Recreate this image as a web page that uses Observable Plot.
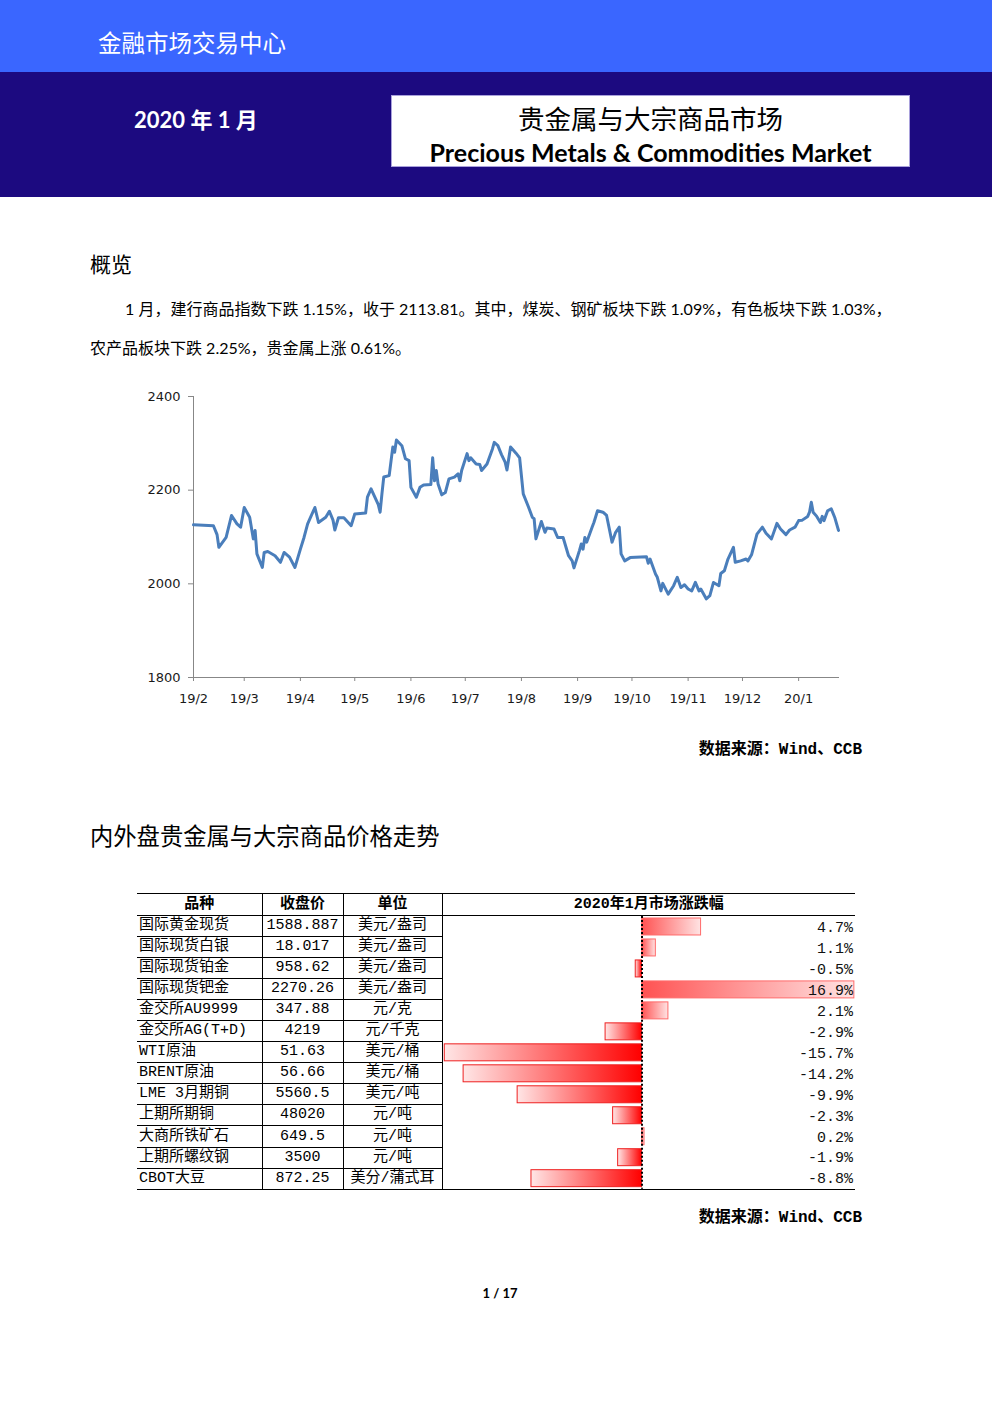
<!DOCTYPE html>
<html><head><meta charset="utf-8">
<script src="https://cdn.jsdelivr.net/npm/d3@7"></script>
<script src="https://cdn.jsdelivr.net/npm/@observablehq/plot@0.6"></script>
<style>
html,body{margin:0;padding:0;background:#fff;}
#page{position:relative;width:992px;height:1403px;overflow:hidden;font-family:"Noto Sans CJK SC",sans-serif;color:#000;}
.abs{position:absolute;white-space:nowrap;}
#chart1 text{fill:#1a1a1a;}
#tbl{position:absolute;left:137px;top:893px;border-collapse:collapse;table-layout:fixed;font-family:"Liberation Mono","Noto Sans CJK SC",monospace;font-size:15px;}
#tbl td,#tbl th{padding:0;height:20px;line-height:20px;border-bottom:1px solid #000;border-right:1px solid #000;vertical-align:bottom;overflow:hidden;white-space:nowrap;}
#tbl th{border-top:1px solid #000;font-weight:bold;text-align:center;line-height:21px;height:20px;}
#tbl td.c0{text-align:left;padding-left:2px;}
#tbl td.c1,#tbl td.c2{text-align:center;}
#tbl .last{border-right:none;}
#tbl td.barcell{vertical-align:top;}
.src{font-family:"Liberation Mono","Noto Sans CJK SC",monospace;font-weight:bold;font-size:16px;}
</style></head>
<body><div id="page">
  <div class="abs" style="left:0;top:0;width:992px;height:72px;background:#3A66FF;"></div>
  <div class="abs" style="left:0;top:72px;width:992px;height:125px;background:#1C0A80;"></div>
  <div class="abs" style="left:98px;top:26px;line-height:32px;font-size:23.5px;color:#fff;">金融市场交易中心</div>
  <div class="abs" style="left:134px;top:105px;line-height:30px;font-size:22px;color:#fff;font-weight:bold;font-family:Lato,'Noto Sans CJK SC';">2020 年 1 月</div>
  <div class="abs" style="left:391px;top:95px;width:517px;height:70px;background:#fff;border:1px solid #a9a1dc;"></div>
  <div class="abs" style="left:391px;top:101px;width:519px;text-align:center;line-height:34px;font-size:26.5px;">贵金属与大宗商品市场</div>
  <div class="abs" style="left:391px;top:136px;width:519px;text-align:center;line-height:32px;font-size:25px;font-weight:bold;font-family:Lato,'Noto Sans CJK SC';">Precious Metals &amp; Commodities Market</div>

  <div class="abs" style="left:90px;top:248px;line-height:30px;font-size:21px;">概览</div>
  <div class="abs" style="left:125px;top:297px;line-height:24px;font-size:16px;font-family:Lato,'Noto Sans CJK SC';">1 月，建行商品指数下跌 1.15%，收于 2113.81。其中，煤炭、钢矿板块下跌 1.09%，有色板块下跌 1.03%，</div>
  <div class="abs" style="left:90px;top:336px;line-height:24px;font-size:16px;font-family:Lato,'Noto Sans CJK SC';">农产品板块下跌 2.25%，贵金属上涨 0.61%。</div>

  <div id="chart1" class="abs" style="left:140px;top:385px;"></div>
  <div class="abs src" style="right:130px;top:738px;line-height:24px;">数据来源：Wind、CCB</div>

  <div class="abs" style="left:90px;top:819px;line-height:32px;font-size:23.3px;">内外盘贵金属与大宗商品价格走势</div>
  <table id="tbl"></table>
  <div class="abs src" style="right:130px;top:1206px;line-height:24px;">数据来源：Wind、CCB</div>
  <div class="abs" style="left:0;width:1000px;text-align:center;top:1284px;line-height:18px;font-size:13px;font-weight:bold;font-family:Lato,'Noto Sans CJK SC';">1 / 17</div>
</div>
<script>
// ---- Line chart data: 建行商品指数 ----
const indexDates = [
"2019-02-01","2019-02-12","2019-02-14","2019-02-15","2019-02-19","2019-02-22","2019-02-25","2019-02-27",
"2019-03-01","2019-03-04","2019-03-06","2019-03-07","2019-03-08","2019-03-11","2019-03-12","2019-03-14","2019-03-18","2019-03-21","2019-03-23","2019-03-26","2019-03-29",
"2019-04-01","2019-04-03","2019-04-05","2019-04-09","2019-04-11","2019-04-15","2019-04-17","2019-04-19","2019-04-20","2019-04-22","2019-04-25","2019-04-29",
"2019-05-01","2019-05-07","2019-05-08","2019-05-10","2019-05-14","2019-05-15","2019-05-16","2019-05-17","2019-05-20","2019-05-22","2019-05-23","2019-05-24","2019-05-27","2019-05-29","2019-05-31",
"2019-06-01","2019-06-04","2019-06-06","2019-06-08","2019-06-12","2019-06-13","2019-06-14","2019-06-15","2019-06-16","2019-06-18","2019-06-20","2019-06-22","2019-06-25","2019-06-27","2019-06-28","2019-06-29",
"2019-07-02","2019-07-03","2019-07-04","2019-07-07","2019-07-09","2019-07-10","2019-07-13","2019-07-16","2019-07-17","2019-07-19","2019-07-21","2019-07-23","2019-07-24","2019-07-26","2019-07-29","2019-07-31",
"2019-08-02","2019-08-05","2019-08-07","2019-08-08","2019-08-09","2019-08-12","2019-08-14","2019-08-15","2019-08-19","2019-08-21","2019-08-24","2019-08-27","2019-08-29","2019-08-30",
"2019-09-02","2019-09-03","2019-09-04","2019-09-05","2019-09-06","2019-09-09","2019-09-10","2019-09-12","2019-09-15","2019-09-17","2019-09-20","2019-09-22","2019-09-24","2019-09-25","2019-09-27","2019-09-30",
"2019-10-09","2019-10-10","2019-10-11","2019-10-14","2019-10-15","2019-10-17","2019-10-18","2019-10-21","2019-10-24","2019-10-26","2019-10-28","2019-10-30",
"2019-11-01","2019-11-03","2019-11-05","2019-11-07","2019-11-08","2019-11-11","2019-11-13","2019-11-15","2019-11-18","2019-11-19","2019-11-21","2019-11-23","2019-11-26","2019-11-27","2019-11-30",
"2019-12-03","2019-12-04","2019-12-06","2019-12-09","2019-12-12","2019-12-14","2019-12-17","2019-12-20","2019-12-22","2019-12-25","2019-12-27","2019-12-30",
"2020-01-01","2020-01-03","2020-01-06","2020-01-07","2020-01-08","2020-01-09","2020-01-11","2020-01-13","2020-01-14","2020-01-15","2020-01-17","2020-01-19","2020-01-21","2020-01-23"];
const indexValues = [
2126,2124,2105,2078,2099,2146,2128,2121,
2163,2142,2096,2114,2064,2035,2067,2069,2060,2046,2067,2057,2035,
2074,2099,2128,2163,2131,2142,2155,2136,2115,2141,2141,2124,
2149,2151,2185,2203,2169,2153,2192,2228,2231,2292,2281,2307,2295,2267,2263,
2206,2185,2206,2211,2212,2269,2220,2242,2213,2190,2195,2224,2228,2235,2220,2242,
2278,2263,2269,2256,2255,2242,2256,2288,2302,2295,2276,2260,2243,2292,2279,2269,
2192,2163,2142,2139,2096,2133,2110,2119,2117,2099,2099,2060,2049,2034,
2071,2085,2074,2099,2089,2121,2131,2156,2153,2146,2089,2110,2121,2064,2049,2056,
2058,2044,2053,2021,2014,1985,2001,1978,1996,2014,1992,1998,
1989,1985,2003,1985,1989,1968,1975,2003,1996,2022,2028,2053,2078,2046,2049,
2053,2049,2062,2106,2121,2108,2096,2129,2117,2105,2115,2121,
2135,2136,2144,2153,2174,2153,2144,2131,2144,2135,2156,2160,2141,2114];
const xTickDates = ["2019-02-01","2019-03-01","2019-04-01","2019-05-01","2019-06-01","2019-07-01","2019-08-01","2019-09-01","2019-10-01","2019-11-01","2019-12-01","2020-01-01"];
const xTickLabels = ["19/2","19/3","19/4","19/5","19/6","19/7","19/8","19/9","19/10","19/11","19/12","20/1"];
const yTicks = [1800,2000,2200,2400];

// ---- Table data ----
const tableHeaders = ["品种","收盘价","单位","2020年1月市场涨跌幅"];
const names = ["国际黄金现货","国际现货白银","国际现货铂金","国际现货钯金","金交所AU9999","金交所AG(T+D)","WTI原油","BRENT原油","LME 3月期铜","上期所期铜","大商所铁矿石","上期所螺纹钢","CBOT大豆"];
const closes = ["1588.887","18.017","958.62","2270.26","347.88","4219","51.63","56.66","5560.5","48020","649.5","3500","872.25"];
const units = ["美元/盎司","美元/盎司","美元/盎司","美元/盎司","元/克","元/千克","美元/桶","美元/桶","美元/吨","元/吨","元/吨","元/吨","美分/蒲式耳"];
const changes = [4.7,1.1,-0.5,16.9,2.1,-2.9,-15.7,-14.2,-9.9,-2.3,0.2,-1.9,-8.8];

// ---- Line chart ----
const series = indexDates.map((d,i)=>({date:new Date(d), value:indexValues[i]}));
const tickDates = xTickDates.map(d=>new Date(d));
const chart1 = Plot.plot({
  width:720, height:330,
  marginLeft:53, marginRight:22, marginTop:11, marginBottom:38,
  style:{fontSize:"13px", fontFamily:"'DejaVu Sans',sans-serif", color:"#878787", background:"#fff", overflow:"visible"},
  x:{type:"utc", domain:[new Date(indexDates[0]), new Date(indexDates[indexDates.length-1])], ticks:tickDates,
     tickFormat:d=>xTickLabels[tickDates.findIndex(t=>+t===+d)], tickSize:4, tickPadding:12, line:true, label:null},
  y:{domain:[yTicks[0], yTicks[yTicks.length-1]], ticks:yTicks, tickFormat:d=>String(d), tickSize:5, tickPadding:8, line:true, label:null},
  marks:[
    Plot.lineY(series,{x:"date", y:"value", stroke:"#4a7ebb", strokeWidth:3, strokeLinejoin:"round"})
  ]
});
document.getElementById("chart1").appendChild(chart1);

// ---- Table ----
const tbl = document.getElementById("tbl");
const colW = [125,81,99,413];
const cg = document.createElement("colgroup");
colW.forEach(w=>{const c=document.createElement("col"); c.style.width=w+"px"; cg.appendChild(c);});
tbl.appendChild(cg);
const hr = document.createElement("tr");
tableHeaders.forEach((h,i)=>{const th=document.createElement("th"); th.textContent=h; if(i===3) th.className="last"; hr.appendChild(th);});
tbl.appendChild(hr);
const rows = names.map((n,i)=>({name:n, v:changes[i]}));
const rowH = 21.1;
names.forEach((n,i)=>{
  const tr=document.createElement("tr");
  [n, closes[i], units[i]].forEach((t,j)=>{const td=document.createElement("td"); td.className="c"+j; td.textContent=t; tr.appendChild(td);});
  if(i===0){
    const td=document.createElement("td"); td.rowSpan=names.length; td.className="last barcell";
    const bars = Plot.plot({
      width:413, height:Math.round(rowH*names.length)-1, margin:0,
      style:{background:"transparent", overflow:"visible"},
      x:{domain:[-15.8,17.03], axis:null},
      y:{domain:names, axis:null, paddingInner:0.2, paddingOuter:0.1},
      marks:[
        Plot.barX(rows.filter(d=>d.v<0),{x:"v", y:"name", fill:"url(#gneg)", stroke:"#ee2020", strokeWidth:1}),
        Plot.barX(rows.filter(d=>d.v>=0),{x:"v", y:"name", fill:"url(#gpos)", stroke:"#ff6a6a", strokeWidth:1}),
        Plot.ruleX([0],{stroke:"#000", strokeWidth:2, strokeDasharray:"2,2"}),
        Plot.text(rows,{y:"name", text:d=>d.v.toFixed(1)+"%", frameAnchor:"right", textAnchor:"end", dx:-3, dy:0,
          fontSize:15, fontFamily:"'Liberation Mono',monospace", fill:"#111"})
      ]
    });
    const defs = d3.select(bars).insert("defs",":first-child");
    const gp = defs.append("linearGradient").attr("id","gpos").attr("x1","0").attr("x2","1").attr("y1","0").attr("y2","0");
    gp.append("stop").attr("offset","0").attr("stop-color","#ff5252");
    gp.append("stop").attr("offset","1").attr("stop-color","#ffe3e3");
    const gn = defs.append("linearGradient").attr("id","gneg").attr("x1","0").attr("x2","1").attr("y1","0").attr("y2","0");
    gn.append("stop").attr("offset","0").attr("stop-color","#ffe6e6");
    gn.append("stop").attr("offset","1").attr("stop-color","#ff0000");
    bars.style.display="block";
    td.appendChild(bars);
    tr.appendChild(td);
  }
  tbl.appendChild(tr);
});
</script>
</body></html>
